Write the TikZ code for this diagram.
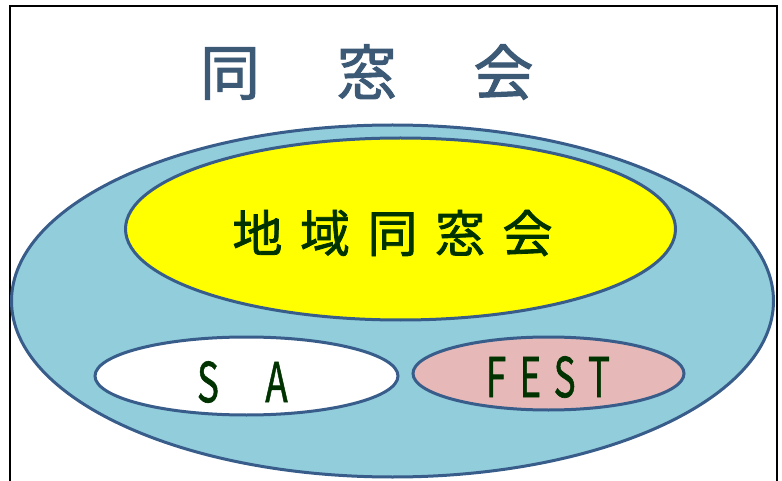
\documentclass[tikz,border=0pt]{standalone}
\usepackage{fontspec}
\setmainfont{Noto Sans CJK JP}
\newfontfamily\heavyjp[FakeBold=1.6]{Noto Sans CJK JP}
\newfontfamily\semijp[FakeBold=1.2]{Noto Sans CJK JP}
\usetikzlibrary{shapes.geometric}
\definecolor{edgeblue}{RGB}{56,93,138}
\definecolor{outerfill}{RGB}{146,205,220}
\definecolor{yellowfill}{RGB}{255,255,0}
\definecolor{pinkfill}{RGB}{230,185,184}
\definecolor{titlecol}{RGB}{60,90,118}
\definecolor{textgreen}{RGB}{0,51,0}
\newcommand{\nar}[1]{\scalebox{0.67}[1]{#1}}
\begin{document}
\begin{tikzpicture}[x=1pt,y=-1pt,
  oval/.style={ellipse, draw=edgeblue, line width=3pt, inner sep=0pt},
  label/.style={inner sep=0pt, text=textgreen, anchor=center}]
\useasboundingbox (0,0) rectangle (782,481);
\clip (0,0) rectangle (782,481);
\draw[line width=2.4pt, black] (10,540) rectangle (777,6);
\node[oval, fill=outerfill, minimum width=762pt, minimum height=352pt] (outer) at (392.5,301) {};
\node[oval, fill=yellowfill, minimum width=550pt, minimum height=182pt] (local) at (400.5,229) {};
\node[oval, fill=white, minimum width=303pt, minimum height=78pt] (sa) at (246.5,376) {};
\node[oval, fill=pinkfill, minimum width=271pt, minimum height=73pt] (fest) at (548.5,373.5) {};
\node[inner sep=0pt, text=titlecol, font=\heavyjp\fontsize{60pt}{60pt}\selectfont] (title) at (366.75,72)
  {同\hspace{76.75pt}窓\hspace{76.75pt}会};
\node[label, font=\heavyjp\fontsize{50pt}{50pt}\selectfont] (localtext) at (392.5,233)
  {地\hspace{17.5pt}域\hspace{17.5pt}同\hspace{17.5pt}窓\hspace{17.5pt}会};
\node[label, font=\semijp\fontsize{55pt}{55pt}\selectfont] (satext) at (242.25,382)
  {\makebox[68.5pt]{\nar{S}}\makebox[68.5pt]{\nar{A}}};
\node[label, font=\semijp\fontsize{55pt}{55pt}\selectfont] (festtext) at (547.5,377)
  {\makebox[34.3pt]{\nar{F}}\makebox[34.3pt]{\nar{E}}\makebox[34.3pt]{\nar{S}}\makebox[34.3pt]{\nar{T}}};
\end{tikzpicture}
\end{document}
